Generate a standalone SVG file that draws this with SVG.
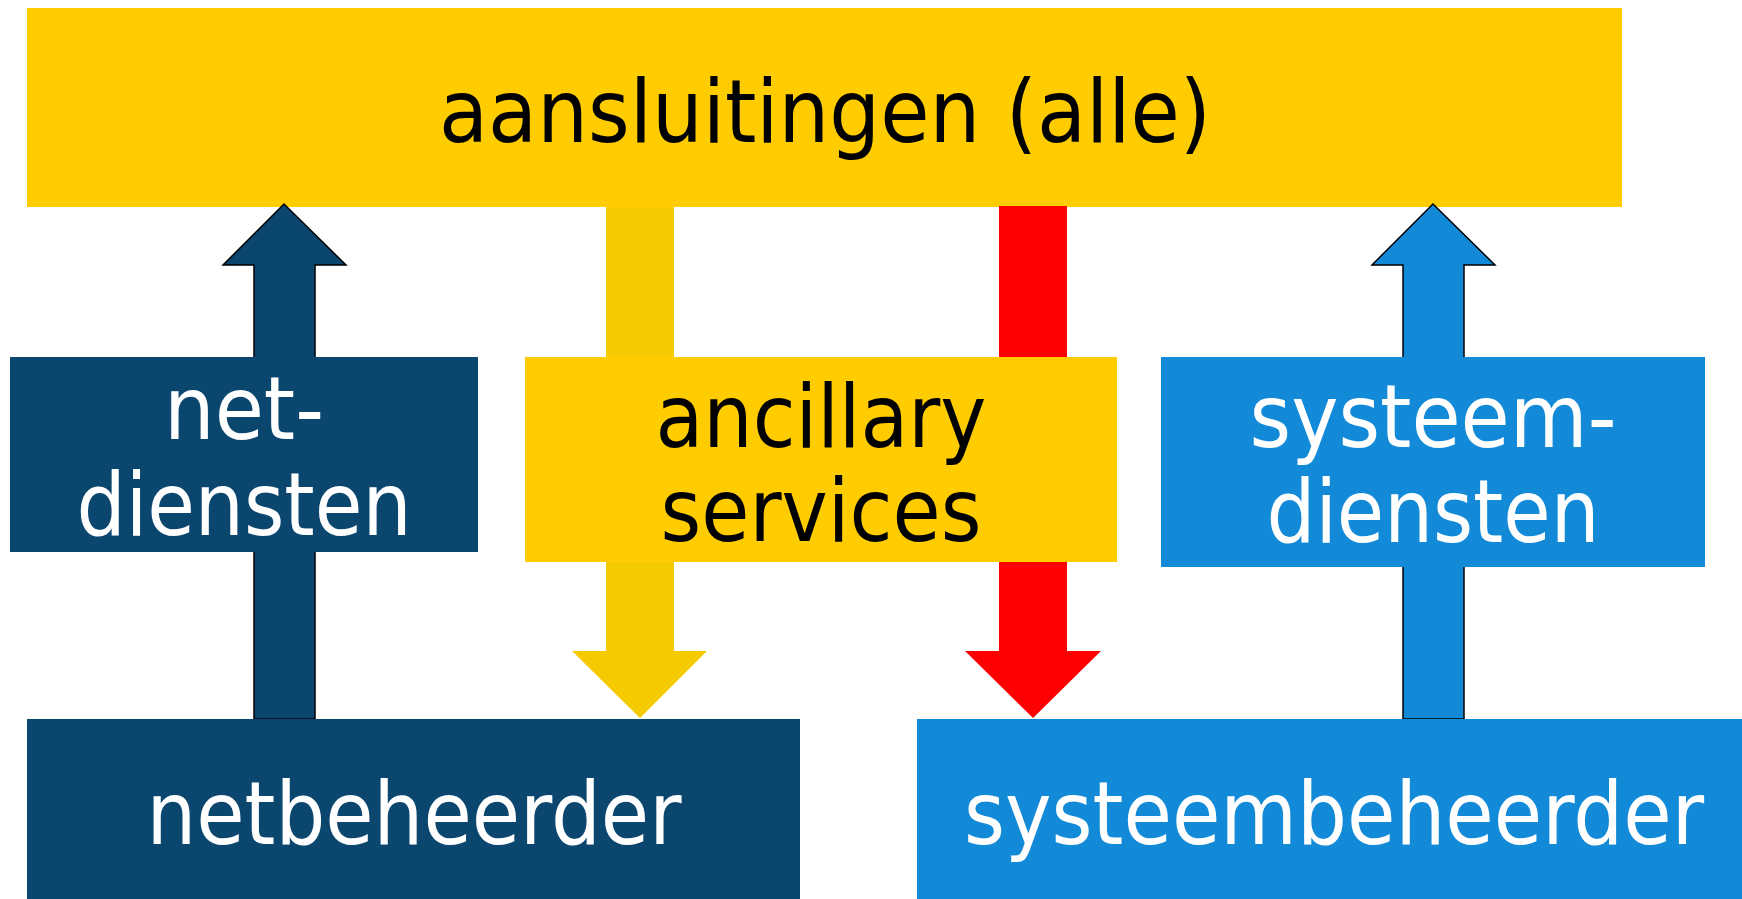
<svg xmlns="http://www.w3.org/2000/svg" width="1742" height="899" viewBox="0 0 1742 899">
<style>
.t{font-family:"DejaVu Sans","Verdana",sans-serif;font-size:88px;text-anchor:middle}
.w{fill:#ffffff}
.k{fill:#000000}
.dark{fill:#0A466E}
.light{fill:#138AD8}
.yel{fill:#FFCC00}
.up{stroke:#000000;stroke-width:1.5}
</style>
<rect width="1742" height="899" fill="#ffffff"/>
<g id="aansluitingen">
<rect class="yel" x="27" y="8" width="1595" height="199"/>
<text class="t k" x="825" y="142" textLength="772" lengthAdjust="spacingAndGlyphs">aansluitingen (alle)</text>
</g>
<g id="connectors">
<polygon id="arrow-netdiensten" class="dark up" points="254,719 254,265 223,265 284,204 346,265 315,265 315,719"/>
<polygon id="arrow-ancillary" fill="#F5CA00" points="606,207 674,207 674,651 707,651 640,718 572,651 606,651"/>
<polygon id="arrow-red" fill="#FF0000" points="999,206 1067,206 1067,651 1101,651 1033,718 965,651 999,651"/>
<polygon id="arrow-systeemdiensten" class="light up" points="1403,719 1403,265 1372,265 1433,204 1495,265 1464,265 1464,719"/>
</g>
<g id="netdiensten">
<rect class="dark" x="10" y="357" width="468" height="195"/>
<text class="t w" x="244" y="439" textLength="160" lengthAdjust="spacingAndGlyphs">net-</text>
<text class="t w" x="244" y="535" textLength="335" lengthAdjust="spacingAndGlyphs">diensten</text>
</g>
<g id="ancillary">
<rect class="yel" x="525" y="357" width="592" height="205"/>
<text class="t k" x="821" y="447" textLength="331" lengthAdjust="spacingAndGlyphs">ancillary</text>
<text class="t k" x="821" y="541" textLength="321" lengthAdjust="spacingAndGlyphs">services</text>
</g>
<g id="systeemdiensten">
<rect class="light" x="1161" y="357" width="544" height="210"/>
<text class="t w" x="1433" y="447" textLength="367" lengthAdjust="spacingAndGlyphs">systeem-</text>
<text class="t w" x="1433" y="542" textLength="333" lengthAdjust="spacingAndGlyphs">diensten</text>
</g>
<g id="netbeheerder">
<rect class="dark" x="27" y="719" width="773" height="180"/>
<text class="t w" x="414" y="844" textLength="535" lengthAdjust="spacingAndGlyphs">netbeheerder</text>
</g>
<g id="systeembeheerder">
<rect class="light" x="917" y="719" width="825" height="180"/>
<text class="t w" x="1334" y="844" textLength="740" lengthAdjust="spacingAndGlyphs">systeembeheerder</text>
</g>
</svg>
